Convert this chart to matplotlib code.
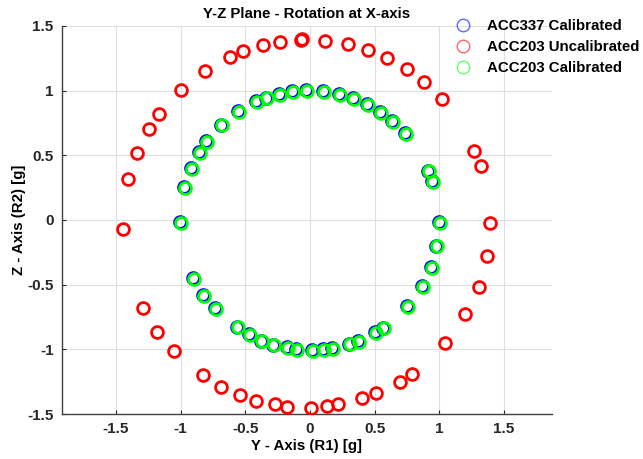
import matplotlib
matplotlib.use("Agg")
import matplotlib.pyplot as plt
from matplotlib.lines import Line2D

plt.rcParams["font.family"] = ["Liberation Sans", "DejaVu Sans"]

# ACC203 before calibration (Y, Z) in g
y_uncal = [-1.449, -1.405, -1.338, -1.248, -1.168, -0.998, -0.815, -0.616, -0.516,
           -0.361, -0.232, -0.060, -0.068, 0.116, 0.296, 0.451, 0.596, 0.750, 0.884,
           1.021, 1.268, 1.322, 1.395, 1.369, 1.305, 1.201, 1.044, 0.786, 0.694,
           0.508, 0.402, 0.217, 0.129, 0.005, -0.178, -0.271, -0.420, -0.544,
           -0.688, -0.830, -1.054, -1.181, -1.292]
z_uncal = [-0.067, 0.315, 0.520, 0.700, 0.822, 1.008, 1.155, 1.263, 1.307,
           1.353, 1.379, 1.398, 1.390, 1.387, 1.361, 1.315, 1.253, 1.165, 1.070,
           0.936, 0.536, 0.420, -0.021, -0.281, -0.518, -0.729, -0.954, -1.189, -1.250,
           -1.341, -1.379, -1.426, -1.438, -1.451, -1.444, -1.426, -1.397, -1.353,
           -1.292, -1.201, -1.013, -0.866, -0.683]

# ACC203 after calibration
y_cal203 = [-0.995, -0.969, -0.915, -0.851, -0.797, -0.678, -0.547, -0.408, -0.333,
            -0.232, -0.134, -0.021, 0.111, 0.232, 0.340, 0.446, 0.549, 0.644, 0.745,
            0.918, 0.954, 1.005, 0.985, 0.946, 0.876, 0.755, 0.575, 0.510, 0.381,
            0.307, 0.175, 0.111, 0.026, -0.103, -0.173, -0.276, -0.369, -0.466,
            -0.559, -0.729, -0.817, -0.895]
z_cal203 = [-0.023, 0.250, 0.394, 0.520, 0.606, 0.732, 0.835, 0.913, 0.941,
            0.969, 0.990, 0.998, 0.990, 0.967, 0.936, 0.892, 0.830, 0.758, 0.665,
            0.376, 0.294, -0.021, -0.203, -0.369, -0.516, -0.673, -0.838, -0.874, -0.941,
            -0.961, -0.998, -1.005, -1.011, -1.003, -0.990, -0.969, -0.938, -0.889,
            -0.830, -0.688, -0.585, -0.454]

# ACC337 reference after calibration
y_cal337 = [-1.003, -0.977, -0.923, -0.859, -0.805, -0.686, -0.555, -0.416, -0.341,
            -0.240, -0.142, -0.029, 0.103, 0.224, 0.332, 0.438, 0.541, 0.636, 0.737,
            0.910, 0.946, 0.997, 0.977, 0.938, 0.868, 0.747, 0.567, 0.502, 0.373,
            0.299, 0.167, 0.103, 0.018, -0.111, -0.181, -0.284, -0.377, -0.474,
            -0.567, -0.737, -0.825, -0.903]
z_cal337 = [-0.018, 0.255, 0.399, 0.525, 0.611, 0.737, 0.840, 0.918, 0.946,
            0.974, 0.995, 1.003, 0.995, 0.972, 0.941, 0.897, 0.835, 0.763, 0.670,
            0.381, 0.299, -0.016, -0.198, -0.364, -0.511, -0.668, -0.833, -0.869, -0.936,
            -0.956, -0.993, -1.000, -1.006, -0.998, -0.985, -0.964, -0.933, -0.884,
            -0.825, -0.683, -0.580, -0.449]

series_labels = ["ACC337 Calibrated", "ACC203 Uncalibrated", "ACC203 Calibrated"]
x_ticks = [-1.5, -1, -0.5, 0, 0.5, 1, 1.5]
y_ticks = [-1.5, -1, -0.5, 0, 0.5, 1, 1.5]
tick_text = ["-1.5", "-1", "-0.5", "0", "0.5", "1", "1.5"]

fig = plt.figure(figsize=(6.43, 4.59), dpi=100)
ax = fig.add_axes([0.0964, 0.098, 0.762, 0.8454])

ms = 8.5
mew = 2.0
ax.plot(y_cal337, z_cal337, "o", ls="none", mfc="none", mec=(0, 0, 1), ms=ms, mew=mew, zorder=3)
ax.plot(y_uncal, z_uncal, "o", ls="none", mfc="none", mec=(1, 0, 0), ms=ms, mew=mew, zorder=3)
ax.plot(y_cal203, z_cal203, "o", ls="none", mfc="none", mec=(0, 1, 0), ms=ms, mew=mew, zorder=4)

ax.set_xlim(-1.918, 1.872)
ax.set_ylim(-1.5, 1.5)
ax.set_xticks(x_ticks)
ax.set_xticklabels(tick_text)
ax.set_yticks(y_ticks)
ax.set_yticklabels(tick_text)
ax.tick_params(direction="in", length=3, labelsize=11, colors="#262626", pad=6)
for lab in ax.get_xticklabels() + ax.get_yticklabels():
    lab.set_fontweight("bold")
ax.grid(True, color="#dfdfdf", lw=0.8)
ax.set_axisbelow(True)
for side in ("top", "right"):
    ax.spines[side].set_visible(False)
for side in ("left", "bottom"):
    ax.spines[side].set_color("#404040")
    ax.spines[side].set_linewidth(1.0)

ax.set_title("Y-Z Plane - Rotation at X-axis", fontsize=10.8, fontweight="bold", pad=6)
ax.set_xlabel("Y - Axis (R1) [g]", fontsize=10.8, fontweight="bold", labelpad=2)
ax.set_ylabel("Z - Axis (R2) [g]", fontsize=10.8, fontweight="bold", labelpad=1)

handles = [Line2D([], [], ls="none", marker="o", mfc="none", mec=c, ms=9, mew=1.0, alpha=0.6)
           for c in [(0, 0, 1), (1, 0, 0), (0, 1, 0)]]
leg = fig.legend(handles, series_labels, loc="upper left", bbox_to_anchor=(0.682, 0.987),
                 frameon=False, prop={"weight": "bold", "size": 10.8},
                 handletextpad=0.85, labelspacing=0.45, handlelength=1.5)

fig.savefig("out.png", dpi=100)
